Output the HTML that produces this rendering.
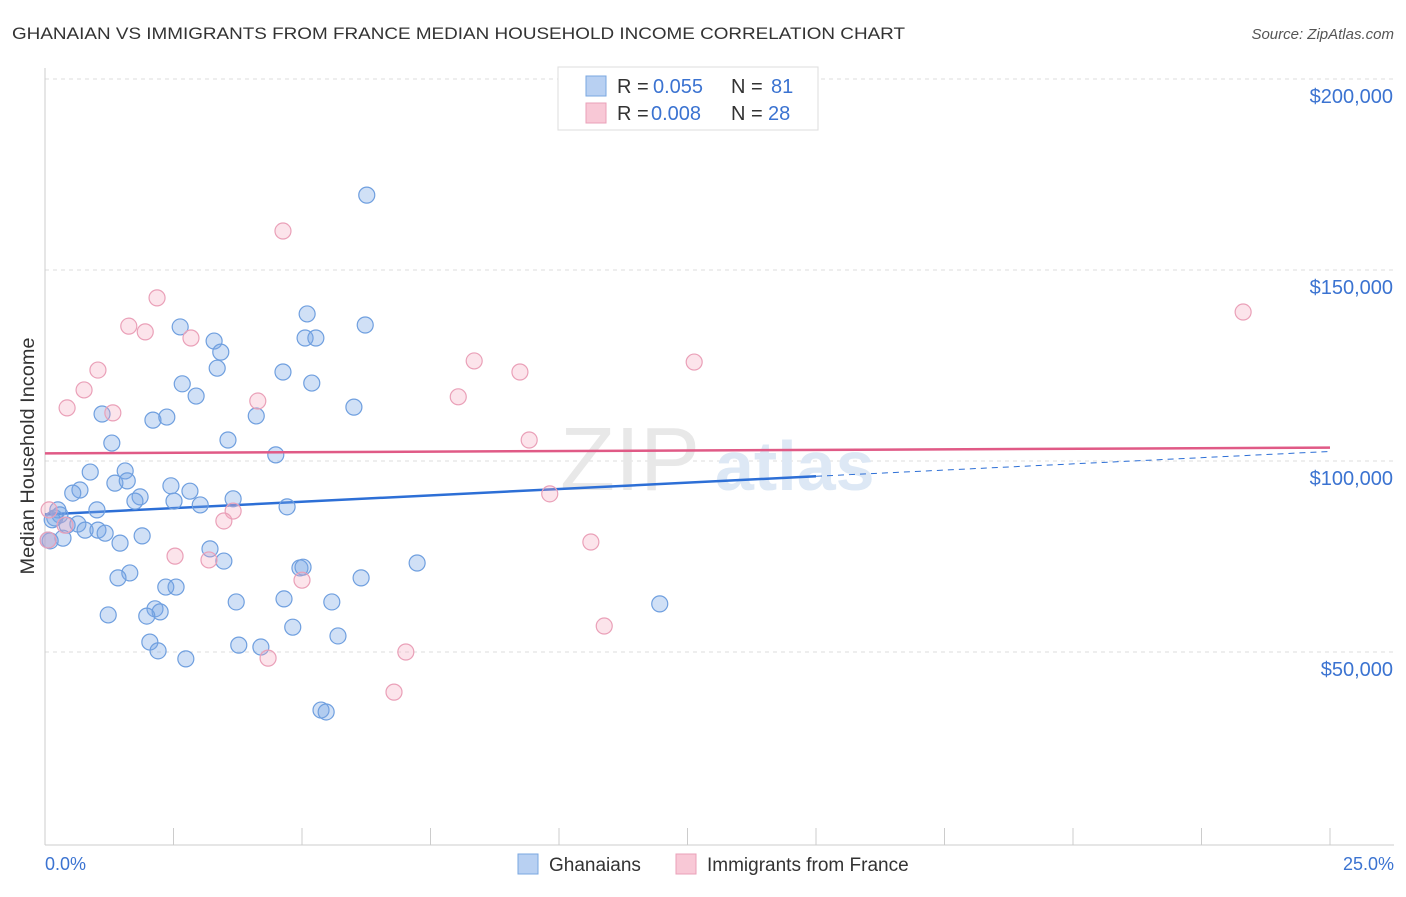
<!DOCTYPE html>
<html><head><meta charset="utf-8"><style>
body{margin:0;background:#fff;font-family:"Liberation Sans",sans-serif;}
svg text{font-family:"Liberation Sans",sans-serif;}
</style></head><body>
<svg id="chart" width="1406" height="892" xmlns="http://www.w3.org/2000/svg">
<text x="12" y="39" font-size="17" fill="#333" textLength="893" lengthAdjust="spacingAndGlyphs">GHANAIAN VS IMMIGRANTS FROM FRANCE MEDIAN HOUSEHOLD INCOME CORRELATION CHART</text>
<text x="1394" y="39" font-size="15" fill="#555" font-style="italic" text-anchor="end">Source: ZipAtlas.com</text>
<g id="grid"></g>
<g id="axes"></g>
<text x="560" y="490" font-size="90" fill="#e8e8e8" font-family="Liberation Serif">ZIP</text>
<text x="715" y="490" font-size="70" fill="#dde8f5" font-weight="bold">atlas</text>
<g id="lines"></g>
<g id="pts"></g>
<text transform="translate(34,456) rotate(-90)" font-size="19" fill="#333" text-anchor="middle" textLength="237" lengthAdjust="spacingAndGlyphs">Median Household Income</text>
<text x="45" y="870" font-size="18" fill="#3b73d1">0.0%</text>
<text x="1394" y="870" font-size="18" fill="#3b73d1" text-anchor="end">25.0%</text>
<g>
<rect x="558" y="67" width="260" height="63" fill="#fff" stroke="#ddd"/>
<rect x="586" y="76" width="20" height="20" fill="#b8d0f2" stroke="#7aa7e0"/>
<rect x="586" y="103" width="20" height="20" fill="#f8c8d6" stroke="#eaa0b8"/>
<text x="617" y="93" font-size="20" fill="#333">R = <tspan x="653" fill="#3b73d1">0.055</tspan><tspan x="731">N = </tspan><tspan x="771" fill="#3b73d1">81</tspan></text>
<text x="617" y="120" font-size="20" fill="#333">R = <tspan x="651" fill="#3b73d1">0.008</tspan><tspan x="731">N = </tspan><tspan x="768" fill="#3b73d1">28</tspan></text>
</g>
<g>
<rect x="518" y="854" width="20" height="20" fill="#b8d0f2" stroke="#7aa7e0"/>
<text x="549" y="871" font-size="19" fill="#333">Ghanaians</text>
<rect x="676" y="854" width="20" height="20" fill="#f8c8d6" stroke="#eaa0b8"/>
<text x="707" y="871" font-size="19" fill="#333">Immigrants from France</text>
</g>
</svg>
<script>
const yTicks=[50000,100000,150000,200000];
const yTickLabels=["$50,000","$100,000","$150,000","$200,000"];
const xTicks=[0,2.5,5,7.5,10,12.5,15,17.5,20,22.5,25];
const blueX=[6.26,2.63,5.10,6.23,3.29,5.06,5.27,3.42,3.35,4.63,2.67,5.19,2.94,1.11,2.10,2.37,6.01,4.11,3.56,1.30,4.49,0.88,1.56,1.36,1.60,0.68,0.54,2.45,2.82,3.66,1.85,1.75,2.51,3.02,4.71,1.01,0.25,0.29,0.19,0.43,0.64,0.78,1.03,1.17,1.89,0.35,0.10,1.46,3.21,3.48,7.24,4.96,5.02,1.65,1.42,6.15,2.35,2.55,3.72,4.65,5.58,11.96,2.14,2.24,1.23,1.98,4.82,5.70,2.04,3.77,4.20,2.20,2.74,5.37,5.47,0.06,0.14];
const blueY=[169.6,135.1,138.5,135.6,131.4,132.2,132.2,128.5,124.3,123.3,120.2,120.4,117.0,112.3,110.7,111.5,114.1,111.8,105.5,104.7,101.6,97.1,97.4,94.2,94.8,92.4,91.6,93.5,92.1,90.1,90.6,89.5,89.5,88.5,88.0,87.2,87.2,85.9,85.1,83.2,83.5,81.9,81.9,81.1,80.4,79.8,79.1,78.5,77.0,73.8,73.3,72.0,72.2,70.7,69.4,69.4,67.0,67.0,63.1,63.9,63.1,62.6,61.3,60.5,59.7,59.4,56.5,54.2,52.6,51.8,51.3,50.3,48.2,34.8,34.3,79.3,84.6];
const pinkX=[4.63,2.18,1.63,1.95,2.84,1.03,8.35,12.63,9.24,0.76,8.04,4.14,0.43,1.32,9.42,23.31,9.82,3.66,3.48,0.08,0.39,2.53,3.19,10.62,5.00,10.88,7.02,4.34,6.79,0.06];
const pinkY=[160.2,142.7,135.3,133.8,132.2,123.8,126.2,125.9,123.3,118.6,116.8,115.7,113.9,112.6,105.5,139.0,91.4,86.9,84.3,87.2,83.2,75.1,74.1,78.8,68.8,56.8,50.0,48.4,39.5,79.3];
const blueTrend=[[0,86],[15,96],[25,102.5]];
const pinkTrend=[[0,102],[25,103.5]];
const NS="http://www.w3.org/2000/svg";
const X=p=>45+p*51.4;
const Y=v=>461-(v-100000)*191/50000;
const Yk=k=>Y(k*1000);
function mk(t,a,p){const e=document.createElementNS(NS,t);for(const k in a)e.setAttribute(k,a[k]);p.appendChild(e);return e;}
const grid=document.getElementById('grid'),axes=document.getElementById('axes');
yTicks.forEach((v,i)=>{
 const l=mk('line',{x1:45,x2:1394,y1:Y(v),y2:Y(v),stroke:'#ddd','stroke-dasharray':'4,4'},grid);
 
 
 const t=mk('text',{x:1393,y:Y(v)+24,'font-size':20,fill:'#3b73d1','text-anchor':'end'},axes);
 t.textContent=yTickLabels[i];
 
 
});
mk('line',{x1:45,x2:45,y1:68,y2:845,stroke:'#ccc'},axes);
mk('line',{x1:45,x2:1394,y1:845,y2:845,stroke:'#ccc'},axes);
xTicks.forEach(p=>{
 const l=mk('line',{x1:X(p),x2:X(p),y1:828,y2:845,stroke:'#ccc'},axes);
 
 
});
const lines=document.getElementById('lines');
let b1=mk('line',{x1:X(blueTrend[0][0]),y1:Yk(blueTrend[0][1]),x2:X(blueTrend[1][0]),y2:Yk(blueTrend[1][1]),stroke:'#2d6fd6','stroke-width':2.5},lines);


let b2=mk('line',{x1:X(blueTrend[1][0]),y1:Yk(blueTrend[1][1]),x2:X(blueTrend[2][0]),y2:Yk(blueTrend[2][1]),stroke:'#2d6fd6','stroke-width':1,'stroke-dasharray':'6,5'},lines);


const pts=document.getElementById('pts');
blueX.forEach((x,i)=>{
 const c=mk('circle',{cx:X(x),cy:Yk(blueY[i]),r:8,fill:'rgba(120,165,230,0.35)',stroke:'#6f9fdf','stroke-width':1.2},pts);
 
 
});
pinkX.forEach((x,i)=>{
 const c=mk('circle',{cx:X(x),cy:Yk(pinkY[i]),r:8,fill:'rgba(245,165,190,0.3)',stroke:'#eaa0b8','stroke-width':1.2},pts);
 
 
});
let p1=mk('line',{x1:X(pinkTrend[0][0]),y1:Yk(pinkTrend[0][1]),x2:X(pinkTrend[1][0]),y2:Yk(pinkTrend[1][1]),stroke:'#e05a86','stroke-width':2.5},pts);


</script>
</body></html>
